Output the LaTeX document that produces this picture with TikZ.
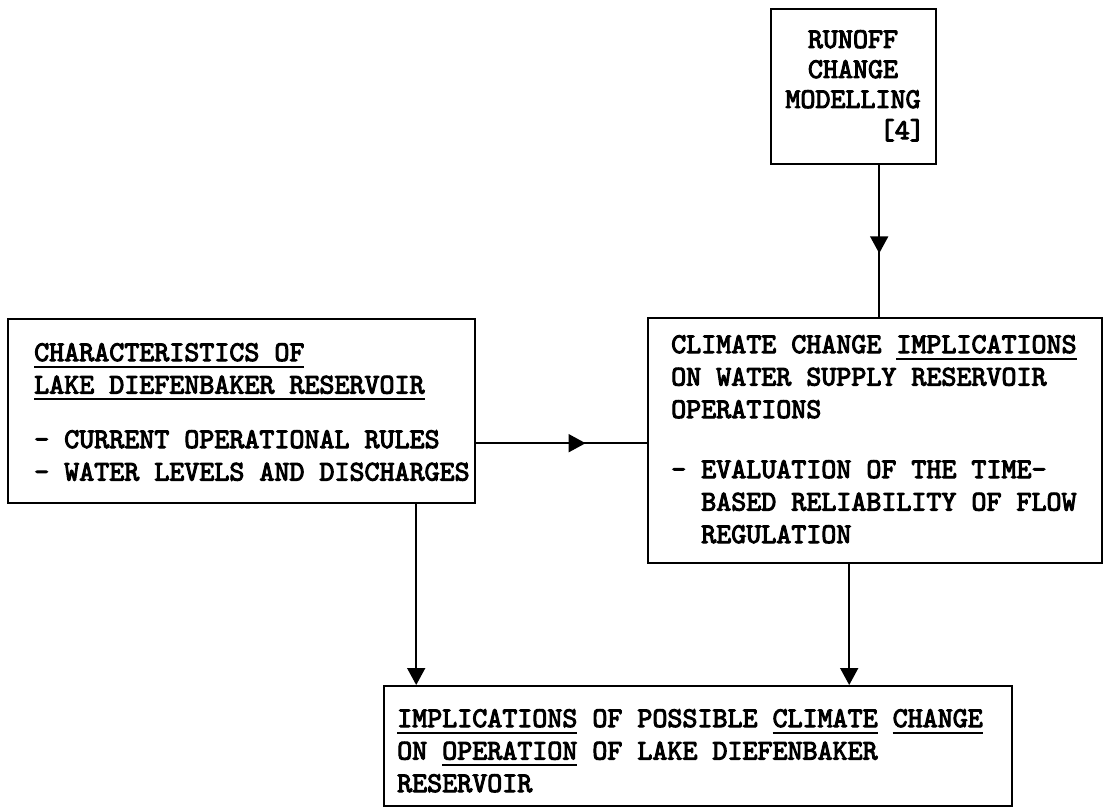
\documentclass[tikz,border=0pt]{standalone}
\usepackage{fontspec}
\usetikzlibrary{arrows.meta,decorations.markings}
\newfontfamily\twfam{lmmono10-regular.otf}[FakeBold=3.5]
\newcommand\myul[1]{\setbox0\hbox{#1}\rlap{\rule[-6.5pt]{\wd0}{2pt}}\box0\relax}
\newcommand\twfont{\twfam\fontsize{28.6}{32.5}\selectfont}
\newcommand\twfonttop{\twfam\fontsize{28.6}{30}\selectfont}
\tikzset{bigtri/.tip={Triangle[width=18pt,length=17pt]}}
\begin{document}
\begin{tikzpicture}[x=1pt,y=-1pt,
  box/.style={draw, line width=2.4pt, inner sep=0pt, anchor=north west},
  txt/.style={font=\twfont, align=left, inner sep=0pt, anchor=north west},
  conn/.style={line width=1.8pt},
  midarrow/.style={postaction={decorate}, decoration={markings, mark=at position #1 with {\arrow{bigtri}}}}]
\useasboundingbox (0,0) rectangle (1103,808);
% boxes
\node[box, minimum width=165pt, minimum height=155pt] (runoff) at (770,8) {};
\node[box, minimum width=467pt, minimum height=184pt] (chars) at (7,318) {};
\node[box, minimum width=454pt, minimum height=245pt] (impl) at (647,317) {};
\node[box, minimum width=628pt, minimum height=120pt] (result) at (383,685) {};
% texts
\node[txt, font=\twfonttop, align=center, anchor=north] (runofftxt) at (853,30) {RUNOFF\\CHANGE\\MODELLING};
\node[txt, anchor=base east] (reftxt) at (925,139) {[4]};
\node[txt] (charstxt) at (34,343) {\myul{CHARACTERISTICS OF}\\\myul{LAKE DIEFENBAKER RESERVOIR}\\[22pt]- CURRENT OPERATIONAL RULES\\- WATER LEVELS AND DISCHARGES};
\node[txt] (impltxt) at (671,335) {CLIMATE CHANGE \myul{IMPLICATIONS}\\ON WATER SUPPLY RESERVOIR\\OPERATIONS\\[27.5pt]- EVALUATION OF THE TIME-\\\phantom{- }BASED RELIABILITY OF FLOW\\\phantom{- }REGULATION};
\node[txt] (resulttxt) at (397,709) {\myul{IMPLICATIONS} OF POSSIBLE \myul{CLIMATE} \myul{CHANGE}\\ON \myul{OPERATION} OF LAKE DIEFENBAKER\\RESERVOIR};
% connectors
\draw[conn, midarrow=0.58] ([xshift=25.5pt]runoff.south) -- ([xshift=25.5pt]runoff.south |- impl.north);
\draw[conn, midarrow=0.64] ([yshift=-32pt]chars.east) -- ([yshift=-32pt]chars.east -| impl.west);
\draw[conn, -{bigtri}] ([xshift=174.5pt]chars.south) -- ([xshift=174.5pt]chars.south |- result.north);
\draw[conn, -{bigtri}] ([xshift=-26pt]impl.south) -- ([xshift=-26pt]impl.south |- result.north);
\end{tikzpicture}
\end{document}
